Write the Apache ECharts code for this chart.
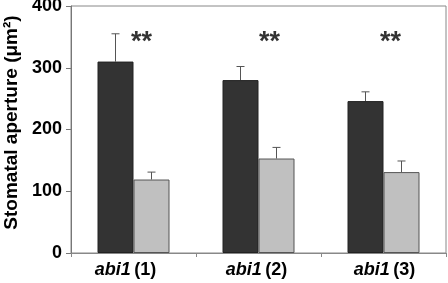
<!DOCTYPE html>
<html><head><meta charset="utf-8">
<script src="https://cdn.jsdelivr.net/npm/echarts@6/dist/echarts.min.js"></script>
<style>html,body{margin:0;padding:0;background:#fff}#c{width:448px;height:283px}</style>
</head><body><div id="c"></div>
<script>
var categories = ['abi1 (1)', 'abi1 (2)', 'abi1 (3)'];
var darkValues = [310, 280, 246];
var darkErrors = [45, 22, 15];
var lightValues = [119, 153, 131];
var lightErrors = [12, 18, 18];
var starLabels = ['**', '**', '**'];
var starLevel = [345, 345, 345];
var yTicks = [0, 100, 200, 300, 400];

var chart = echarts.init(document.getElementById('c'));
var font = 'Liberation Sans, Arial, sans-serif';
var starShift = [8, 11, 7];
var labelPad = [[0, 16, 0, 0], [0, 4, 0, 0], [0, 0, 0, 2]];

function errSeries(vals, errs, offset) {
  return {
    type: 'custom',
    z: 1,
    data: vals.map(function (v, i) { return [i, v, v + errs[i]]; }),
    renderItem: function (params, api) {
      var base = api.coord([api.value(0), api.value(1)]);
      var top = api.coord([api.value(0), api.value(2)]);
      var x = base[0] + offset;
      var st = { stroke: '#555', lineWidth: 1 };
      return { type: 'group', children: [
        { type: 'line', shape: { x1: x, y1: base[1], x2: x, y2: top[1] }, style: st },
        { type: 'line', shape: { x1: x - 4, y1: top[1], x2: x + 4, y2: top[1] }, style: st }
      ]};
    }
  };
}

chart.setOption({
  animation: false,
  grid: { left: 71, right: 2, top: 6, bottom: 30, show: true, borderColor: '#888', borderWidth: 1,
    containLabel: false, outerBoundsMode: 'none' },
  xAxis: {
    type: 'category',
    data: categories.map(function (c, i) { return { value: c, textStyle: { padding: labelPad[i] } }; }),
    axisLine: { lineStyle: { color: '#888' } },
    axisTick: { show: true, length: 4, lineStyle: { color: '#888' } },
    axisLabel: {
      margin: 8,
      formatter: function (v) { var p = v.split(' '); return '{i|' + p[0] + '} {b|' + p[1] + '}'; },
      rich: {
        i: { fontFamily: font, fontSize: 18, fontWeight: 'bold', fontStyle: 'italic', color: '#000' },
        b: { fontFamily: font, fontSize: 18, fontWeight: 'bold', color: '#000' }
      }
    }
  },
  yAxis: {
    type: 'value', min: 0, max: 400, interval: 100,
    name: 'Stomatal aperture (μm²)',
    nameLocation: 'middle', nameGap: 47,
    nameTextStyle: { fontFamily: font, fontSize: 19, fontWeight: 'bold', color: '#000', padding: [0, 0, 0, 14] },
    axisLine: { show: true, lineStyle: { color: '#777' } },
    axisTick: { show: true, length: 5, lineStyle: { color: '#777' } },
    splitLine: { show: false },
    axisLabel: {
      margin: 9, fontFamily: font, fontSize: 18, fontWeight: 'bold', color: '#000',
      formatter: function (v) { return yTicks.indexOf(v) >= 0 ? String(v) : ''; }
    }
  },
  series: [
    { type: 'bar', data: darkValues, barWidth: 36, barGap: '0%', z: 2,
      itemStyle: { color: '#333333', borderColor: '#222', borderWidth: 1 } },
    { type: 'bar', data: lightValues, barWidth: 36, z: 2,
      itemStyle: { color: '#c0c0c0', borderColor: '#555', borderWidth: 1 } },
    errSeries(darkValues, darkErrors, -18),
    errSeries(lightValues, lightErrors, 18),
    { type: 'scatter', symbolSize: 0, z: 5,
      data: starLevel.map(function (v, i) {
        return { value: [i, v], label: { offset: [starShift[i], 3] } };
      }),
      label: { show: true, position: 'inside',
        formatter: function (p) { return starLabels[p.dataIndex]; },
        fontFamily: font, fontSize: 27, fontWeight: 'bold', color: '#000' } }
  ]
});
</script></body></html>
